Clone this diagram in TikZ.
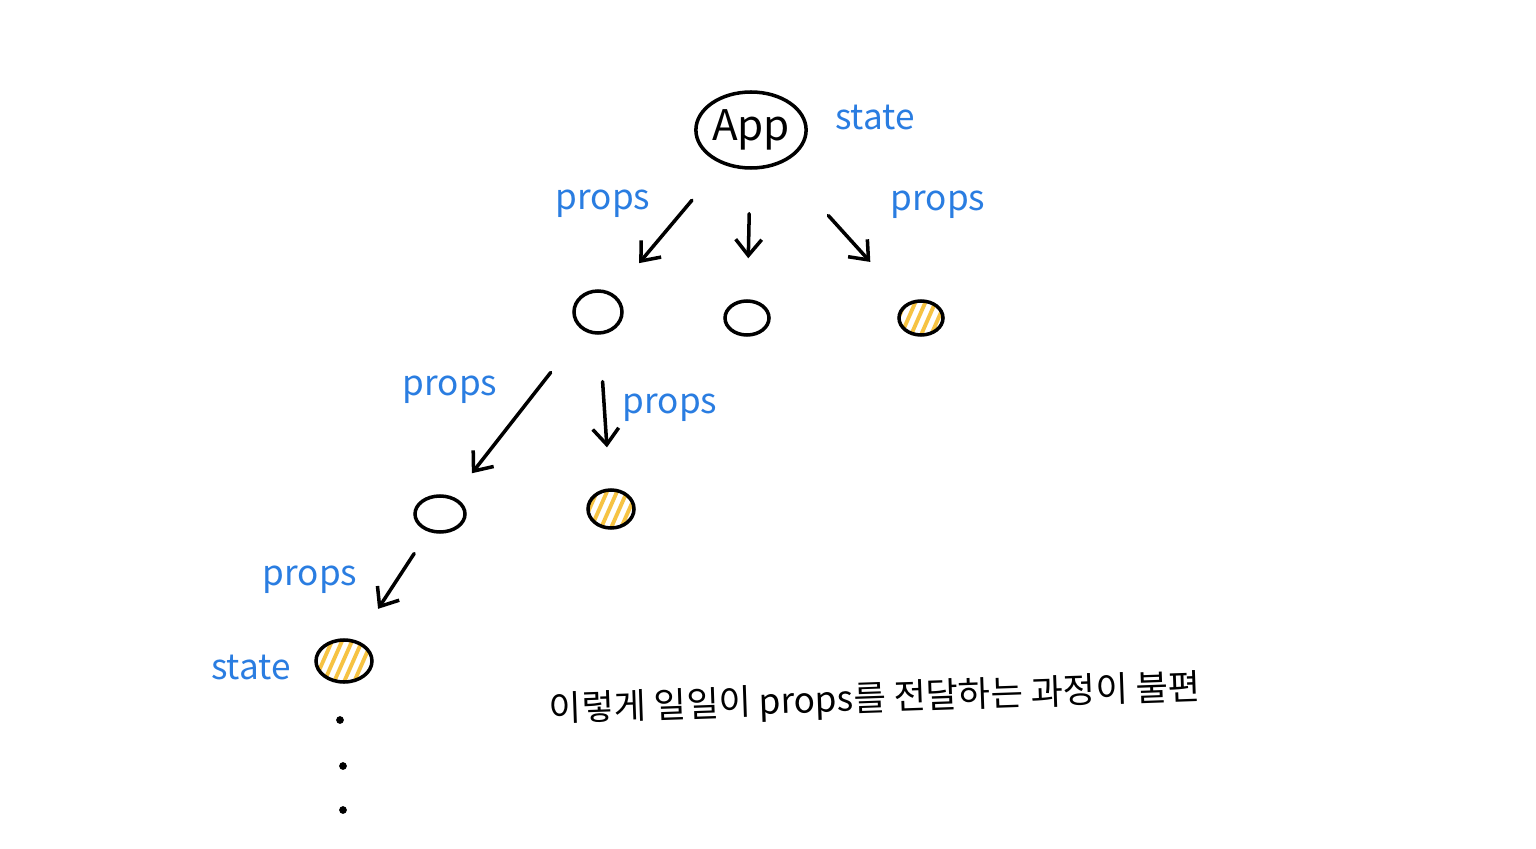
\documentclass[tikz,border=0pt]{standalone}
\usepackage{fontspec}
\setmainfont{Noto Sans CJK KR}
\usetikzlibrary{shapes.geometric, arrows.meta}
\definecolor{penblue}{HTML}{2A7DE1}
\definecolor{penyellow}{HTML}{F6C343}

\begin{document}
\begin{tikzpicture}[line width=1pt, line cap=round,
    comp/.style={draw, ellipse, inner sep=0pt},
    filled/.style={comp, path picture={
        \foreach \i in {-3,...,1}
          \draw[penyellow, line width=1.1pt]
            ([xshift=\i*1mm]path picture bounding box.south) -- ++(0.22,0.5);}},
    pass/.style={-{Straight Barb[length=1.6mm, width=2.6mm]}},
    lbl/.style={text=penblue, font=\normalsize}]
    \useasboundingbox (0,0) rectangle (15.36,8.48);
    % Root component
    \node[comp, minimum width=0.98cm, minimum height=0.76cm, font=\large] (app) at (7.51,7.18) {App};
    \node[lbl] (appstate) at (8.75,7.30) {state};
    % First level
    \node[comp, minimum width=0.48cm, minimum height=0.42cm] (c1) at (5.98,5.36) {};
    \node[comp, minimum width=0.44cm, minimum height=0.34cm] (c2) at (7.47,5.30) {};
    \node[filled, minimum width=0.44cm, minimum height=0.34cm] (c3) at (9.21,5.30) {};
    \draw[pass, shorten <=0.47cm, shorten >=0.40cm] (app) -- (c1);
    \draw[pass, shorten <=0.44cm, shorten >=0.41cm] (app) -- (c2);
    \draw[pass, shorten <=0.70cm, shorten >=0.55cm] (app) -- (c3);
    \node[lbl] (p1) at (6.03,6.44) {props};
    \node[lbl] (p2) at (9.38,6.43) {props};
    % Second level
    \node[comp, minimum width=0.50cm, minimum height=0.36cm] (d1) at (4.40,3.34) {};
    \node[filled, minimum width=0.46cm, minimum height=0.38cm] (d2) at (6.11,3.39) {};
    \draw[pass, shorten <=0.53cm, shorten >=0.30cm] (c1) -- (d1);
    \draw[pass, shorten <=0.47cm, shorten >=0.41cm] (c1) -- (d2);
    \node[lbl] (p3) at (4.50,4.58) {props};
    \node[lbl] (p4) at (6.70,4.40) {props};
    % Third level
    \node[filled, minimum width=0.56cm, minimum height=0.42cm] (e1) at (3.44,1.87) {};
    \draw[pass, shorten <=0.26cm, shorten >=0.38cm] (d1) -- (e1);
    \node[lbl] (p5) at (3.10,2.68) {props};
    \node[lbl] (deepstate) at (2.51,1.81) {state};
    \foreach \y/\x in {1.28/3.40, 0.82/3.43, 0.38/3.43}
      \fill (\x,\y) circle (1.1pt);
    % Note
    \node[rotate=2] (note) at (8.75,1.48) {이렇게 일일이 props를 전달하는 과정이 불편};
\end{tikzpicture}
\end{document}
